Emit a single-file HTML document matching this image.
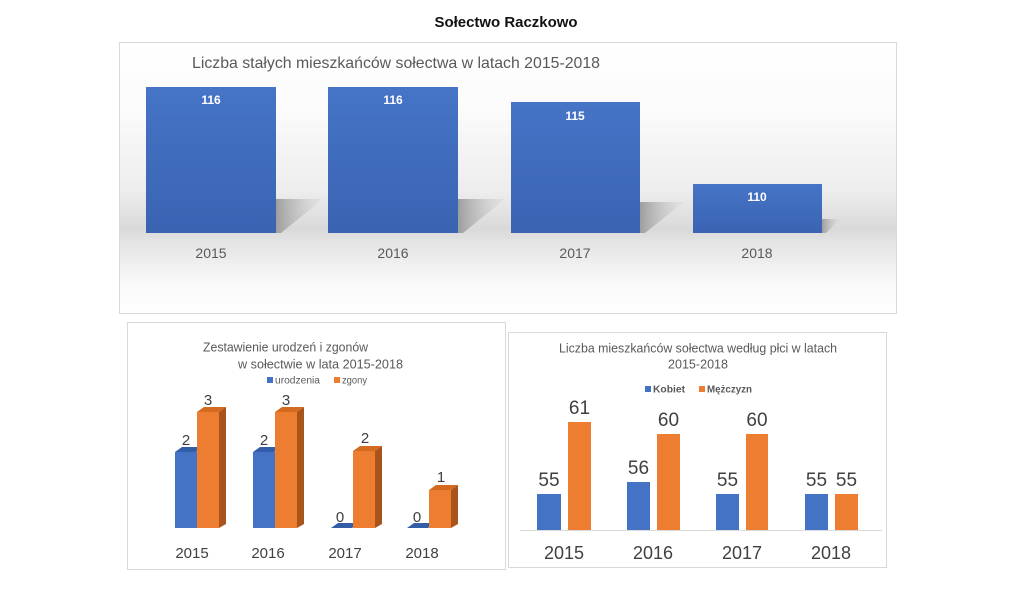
<!DOCTYPE html>
<html>
<head>
<meta charset="utf-8">
<style>
  html, body { margin:0; padding:0; background:#ffffff; }
  body { width:1024px; height:614px; overflow:hidden; }
  svg { display:block; }
  text { font-family: "Liberation Sans", "DejaVu Sans", sans-serif; }
</style>
</head>
<body>
<svg width="1024" height="614" viewBox="0 0 1024 614" xmlns="http://www.w3.org/2000/svg">
  <defs>
    <linearGradient id="bgTop" x1="0" y1="42" x2="0" y2="314" gradientUnits="userSpaceOnUse">
      <stop offset="0" stop-color="#ffffff"/>
      <stop offset="0.25" stop-color="#fbfbfb"/>
      <stop offset="0.55" stop-color="#ededed"/>
      <stop offset="0.69" stop-color="#d9d9d9"/>
      <stop offset="0.73" stop-color="#e3e3e3"/>
      <stop offset="0.88" stop-color="#f8f8f8"/>
      <stop offset="1" stop-color="#ffffff"/>
    </linearGradient>
    <linearGradient id="barBlue" x1="0" y1="0" x2="0" y2="1">
      <stop offset="0" stop-color="#4674c6"/>
      <stop offset="1" stop-color="#3a63b2"/>
    </linearGradient>
    <linearGradient id="shadowG" x1="0" y1="0" x2="1" y2="0">
      <stop offset="0" stop-color="#9e9e9e"/>
      <stop offset="1" stop-color="#d6d6d6" stop-opacity="0.3"/>
    </linearGradient>
  </defs>

  <!-- Main title -->
  <text x="506" y="27" font-size="15" font-weight="bold" fill="#111" text-anchor="middle" textLength="143" lengthAdjust="spacingAndGlyphs">Sołectwo Raczkowo</text>

  <!-- ===== Top chart ===== -->
  <rect x="119.5" y="42.5" width="777" height="271" fill="url(#bgTop)" stroke="#d9d9d9" stroke-width="1"/>
  <text x="192" y="68" font-size="16" fill="#595959" textLength="408" lengthAdjust="spacingAndGlyphs">Liczba stałych mieszkańców sołectwa  w latach 2015-2018</text>

  <!-- shadows -->
  <polygon points="276,199 323,199 281,233 276,233" fill="url(#shadowG)"/>
  <polygon points="458,199 505,199 463,233 458,233" fill="url(#shadowG)"/>
  <polygon points="640,202 684,202 645,233 640,233" fill="url(#shadowG)"/>
  <polygon points="822,219 840,219 826,233 822,233" fill="url(#shadowG)"/>

  <!-- bars -->
  <rect x="146" y="87" width="130" height="146" fill="url(#barBlue)"/>
  <rect x="328" y="87" width="130" height="146" fill="url(#barBlue)"/>
  <rect x="511" y="102" width="129" height="131" fill="url(#barBlue)"/>
  <rect x="693" y="184" width="129" height="49" fill="url(#barBlue)"/>

  <text x="211" y="104" font-size="12" font-weight="bold" fill="#ffffff" text-anchor="middle">116</text>
  <text x="393" y="104" font-size="12" font-weight="bold" fill="#ffffff" text-anchor="middle">116</text>
  <text x="575" y="120" font-size="12" font-weight="bold" fill="#ffffff" text-anchor="middle">115</text>
  <text x="757" y="201" font-size="12" font-weight="bold" fill="#ffffff" text-anchor="middle">110</text>

  <text x="211" y="258" font-size="14" fill="#595959" text-anchor="middle">2015</text>
  <text x="393" y="258" font-size="14" fill="#595959" text-anchor="middle">2016</text>
  <text x="575" y="258" font-size="14" fill="#595959" text-anchor="middle">2017</text>
  <text x="757" y="258" font-size="14" fill="#595959" text-anchor="middle">2018</text>

  <!-- ===== Bottom-left chart ===== -->
  <rect x="127.5" y="322.5" width="378" height="247" fill="#ffffff" stroke="#d9d9d9" stroke-width="1"/>
  <text x="203" y="351.5" font-size="12.5" fill="#595959" textLength="165" lengthAdjust="spacingAndGlyphs">Zestawienie urodzeń i zgonów</text>
  <text x="238" y="368.5" font-size="12.5" fill="#595959" textLength="165" lengthAdjust="spacingAndGlyphs">w sołectwie w lata 2015-2018</text>
  <rect x="267" y="377" width="6" height="6" fill="#4472c4"/>
  <text x="275" y="383.5" font-size="10" fill="#595959" textLength="45" lengthAdjust="spacingAndGlyphs">urodzenia</text>
  <rect x="334" y="377" width="6" height="6" fill="#ed7d31"/>
  <text x="342" y="383.5" font-size="10" fill="#595959" textLength="25" lengthAdjust="spacingAndGlyphs">zgony</text>

  <!-- 2015 -->
  <polygon points="175,452 196,452 203,447 182,447" fill="#345da8"/>
  <rect x="175" y="452" width="22" height="76" fill="#4472c4"/>
  <polygon points="197,412 219,412 226,407 204,407" fill="#d36a20"/>
  <polygon points="219,412 226,407 226,524 219,528" fill="#a9541a"/>
  <rect x="197" y="412" width="22" height="116" fill="#ed7d31"/>
  <!-- 2016 -->
  <polygon points="253,452 274,452 281,447 260,447" fill="#345da8"/>
  <rect x="253" y="452" width="22" height="76" fill="#4472c4"/>
  <polygon points="275,412 297,412 304,407 282,407" fill="#d36a20"/>
  <polygon points="297,412 304,407 304,524 297,528" fill="#a9541a"/>
  <rect x="275" y="412" width="22" height="116" fill="#ed7d31"/>
  <!-- 2017 -->
  <polygon points="331,528 352,528 359,523 338,523" fill="#345da8"/>
  <polygon points="353,451 375,451 382,446 360,446" fill="#d36a20"/>
  <polygon points="375,451 382,446 382,524 375,528" fill="#a9541a"/>
  <rect x="353" y="451" width="22" height="77" fill="#ed7d31"/>
  <!-- 2018 -->
  <polygon points="407,528 428,528 435,523 414,523" fill="#345da8"/>
  <polygon points="429,490 451,490 458,485 436,485" fill="#d36a20"/>
  <polygon points="451,490 458,485 458,524 451,528" fill="#a9541a"/>
  <rect x="429" y="490" width="22" height="38" fill="#ed7d31"/>

  <text x="186" y="445" font-size="15" fill="#404040" text-anchor="middle">2</text>
  <text x="208" y="405" font-size="15" fill="#404040" text-anchor="middle">3</text>
  <text x="264" y="445" font-size="15" fill="#404040" text-anchor="middle">2</text>
  <text x="286" y="405" font-size="15" fill="#404040" text-anchor="middle">3</text>
  <text x="340" y="522" font-size="15" fill="#404040" text-anchor="middle">0</text>
  <text x="365" y="443" font-size="15" fill="#404040" text-anchor="middle">2</text>
  <text x="417" y="522" font-size="15" fill="#404040" text-anchor="middle">0</text>
  <text x="441" y="482" font-size="15" fill="#404040" text-anchor="middle">1</text>

  <text x="192" y="558" font-size="15" fill="#404040" text-anchor="middle">2015</text>
  <text x="268" y="558" font-size="15" fill="#404040" text-anchor="middle">2016</text>
  <text x="345" y="558" font-size="15" fill="#404040" text-anchor="middle">2017</text>
  <text x="422" y="558" font-size="15" fill="#404040" text-anchor="middle">2018</text>

  <!-- ===== Bottom-right chart ===== -->
  <rect x="508.5" y="332.5" width="378" height="235" fill="#ffffff" stroke="#d9d9d9" stroke-width="1"/>
  <text x="559" y="352.5" font-size="12.5" fill="#595959" textLength="278" lengthAdjust="spacingAndGlyphs">Liczba mieszkańców sołectwa według płci w latach</text>
  <text x="668" y="368.5" font-size="12.5" fill="#595959" textLength="60" lengthAdjust="spacingAndGlyphs">2015-2018</text>
  <rect x="645" y="386" width="6" height="6" fill="#4472c4"/>
  <text x="653" y="392.5" font-size="10" font-weight="bold" fill="#595959" textLength="32" lengthAdjust="spacingAndGlyphs">Kobiet</text>
  <rect x="699" y="386" width="6" height="6" fill="#ed7d31"/>
  <text x="707" y="392.5" font-size="10" font-weight="bold" fill="#595959" textLength="45" lengthAdjust="spacingAndGlyphs">Mężczyzn</text>

  <line x1="520" y1="530.5" x2="882" y2="530.5" stroke="#d9d9d9" stroke-width="1"/>

  <rect x="537" y="494" width="24" height="36" fill="#4472c4"/>
  <rect x="568" y="422" width="23" height="108" fill="#ed7d31"/>
  <rect x="627" y="482" width="23" height="48" fill="#4472c4"/>
  <rect x="657" y="434" width="23" height="96" fill="#ed7d31"/>
  <rect x="716" y="494" width="23" height="36" fill="#4472c4"/>
  <rect x="746" y="434" width="22" height="96" fill="#ed7d31"/>
  <rect x="805" y="494" width="23" height="36" fill="#4472c4"/>
  <rect x="835" y="494" width="23" height="36" fill="#ed7d31"/>

  <text x="549" y="486" font-size="19" fill="#404040" text-anchor="middle">55</text>
  <text x="579.5" y="414" font-size="19" fill="#404040" text-anchor="middle">61</text>
  <text x="638.5" y="474" font-size="19" fill="#404040" text-anchor="middle">56</text>
  <text x="668.5" y="426" font-size="19" fill="#404040" text-anchor="middle">60</text>
  <text x="727.5" y="486" font-size="19" fill="#404040" text-anchor="middle">55</text>
  <text x="757" y="426" font-size="19" fill="#404040" text-anchor="middle">60</text>
  <text x="816.5" y="486" font-size="19" fill="#404040" text-anchor="middle">55</text>
  <text x="846.5" y="486" font-size="19" fill="#404040" text-anchor="middle">55</text>

  <text x="564" y="559" font-size="18" fill="#404040" text-anchor="middle">2015</text>
  <text x="653" y="559" font-size="18" fill="#404040" text-anchor="middle">2016</text>
  <text x="742" y="559" font-size="18" fill="#404040" text-anchor="middle">2017</text>
  <text x="831" y="559" font-size="18" fill="#404040" text-anchor="middle">2018</text>
</svg>
</body>
</html>
